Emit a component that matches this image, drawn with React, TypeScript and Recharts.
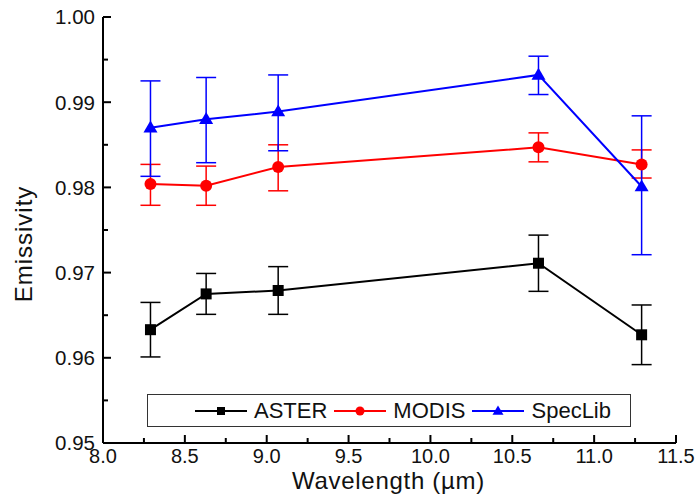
import React from 'react'
import {
  LineChart,
  Line,
  XAxis,
  YAxis,
  ErrorBar,
  Legend,
} from 'recharts'

// Wavelength positions (µm)
const wavelengths = [8.29, 8.63, 9.07, 10.66, 11.29]

// ASTER
const asterValues = [0.9633, 0.9675, 0.9679, 0.9711, 0.9627]
const asterUpper = [0.9665, 0.9699, 0.9707, 0.9744, 0.9662]
const asterLower = [0.9601, 0.9651, 0.9651, 0.9678, 0.9592]

// MODIS
const modisValues = [0.9804, 0.9802, 0.9824, 0.9847, 0.9827]
const modisUpper = [0.9827, 0.9825, 0.985, 0.9864, 0.9844]
const modisLower = [0.9779, 0.9779, 0.9796, 0.983, 0.9811]

// SpecLib
const specLibValues = [0.987, 0.988, 0.9889, 0.9932, 0.9801]
const specLibUpper = [0.9925, 0.9929, 0.9932, 0.9954, 0.9884]
const specLibLower = [0.9813, 0.9829, 0.9843, 0.9909, 0.9721]

// tick labels
const xMajorTicks = [8.0, 8.5, 9.0, 9.5, 10.0, 10.5, 11.0, 11.5]
const xMinorTicks = [8.25, 8.75, 9.25, 9.75, 10.25, 10.75, 11.25]
const yMajorTicks = [0.95, 0.96, 0.97, 0.98, 0.99, 1.0]
const yMinorTicks = [0.955, 0.965, 0.975, 0.985, 0.995]

const FONT = '"Liberation Sans", Arial, Helvetica, sans-serif'
const X_MARGIN = 5
const Y_MARGIN = 8
const MAJOR_LEN = 8
const MINOR_LEN = 5

const chartData = wavelengths.map((x, i) => ({
  x,
  aster: asterValues[i],
  asterErr: [asterValues[i] - asterLower[i], asterUpper[i] - asterValues[i]],
  modis: modisValues[i],
  modisErr: [modisValues[i] - modisLower[i], modisUpper[i] - modisValues[i]],
  specLib: specLibValues[i],
  specLibErr: [specLibValues[i] - specLibLower[i], specLibUpper[i] - specLibValues[i]],
}))

const xTicks = [...xMajorTicks, ...xMinorTicks].sort((a, b) => a - b)
const yTicks = [...yMajorTicks, ...yMinorTicks].sort((a, b) => a - b)

const isMajor = (v: number, list: number[]) => list.some((m) => Math.abs(m - v) < 1e-9)

// ---- marker shapes ----
const Square = ({ cx, cy, size, color }: any) => (
  <rect x={cx - size / 2} y={cy - size / 2} width={size} height={size} fill={color} />
)
const Circle = ({ cx, cy, size, color }: any) => <circle cx={cx} cy={cy} r={size / 2} fill={color} />
const Triangle = ({ cx, cy, size, color }: any) => {
  const h = size * 0.85
  return (
    <polygon
      points={`${cx},${cy - h * 0.6} ${cx - size / 2},${cy + h * 0.4} ${cx + size / 2},${cy + h * 0.4}`}
      fill={color}
    />
  )
}

const series = [
  { key: 'aster', name: 'ASTER', color: '#000000', Marker: Square, size: 11, legendSize: 8 },
  { key: 'modis', name: 'MODIS', color: '#ff0000', Marker: Circle, size: 12, legendSize: 9 },
  { key: 'specLib', name: 'SpecLib', color: '#0000ff', Marker: Triangle, size: 14, legendSize: 11 },
]

// ---- ticks (inward, with minor ticks) ----
const BottomTick = (props: any) => {
  const { x, y, payload } = props
  const v = payload.value
  const major = isMajor(v, xMajorTicks)
  const axisY = y - X_MARGIN
  return (
    <g>
      <line x1={x} x2={x} y1={axisY} y2={axisY - (major ? MAJOR_LEN : MINOR_LEN)} stroke="#000" strokeWidth={2} />
      {major && (
        <text x={x} y={axisY + X_MARGIN} dy="0.74em" textAnchor="middle" fontFamily={FONT} fontSize={20} fill="#111">
          {v.toFixed(1)}
        </text>
      )}
    </g>
  )
}

const TopTick = (props: any) => {
  const { x, y, payload } = props
  const major = isMajor(payload.value, xMajorTicks)
  return <line x1={x} x2={x} y1={y} y2={y + (major ? MAJOR_LEN : MINOR_LEN)} stroke="#000" strokeWidth={2} />
}

const LeftTick = (props: any) => {
  const { x, y, payload } = props
  const v = payload.value
  const major = isMajor(v, yMajorTicks)
  const axisX = x + Y_MARGIN
  return (
    <g>
      <line x1={axisX} x2={axisX + (major ? MAJOR_LEN : MINOR_LEN)} y1={y} y2={y} stroke="#000" strokeWidth={2} />
      {major && (
        <text x={axisX - Y_MARGIN} y={y} dy="0.36em" textAnchor="end" fontFamily={FONT} fontSize={20.5} fill="#111">
          {v.toFixed(2)}
        </text>
      )}
    </g>
  )
}

const RightTick = (props: any) => {
  const { x, y, payload } = props
  const major = isMajor(payload.value, yMajorTicks)
  return <line x1={x} x2={x - (major ? MAJOR_LEN : MINOR_LEN)} y1={y} y2={y} stroke="#000" strokeWidth={2} />
}

const LegendBox = () => (
  <div
    style={{
      display: 'flex',
      alignItems: 'center',
      height: '100%',
      boxSizing: 'border-box',
      border: '1.5px solid #333',
      paddingLeft: 47,
      fontFamily: FONT,
      fontSize: 22,
      color: '#111',
      background: '#fff',
    }}
  >
    {series.map((s) => (
      <div key={s.key} style={{ display: 'flex', alignItems: 'center', marginRight: 7 }}>
        <svg width={52} height={20}>
          <line x1={0} x2={52} y1={10} y2={10} stroke={s.color} strokeWidth={2} />
          <s.Marker cx={26} cy={10} size={s.legendSize} color={s.color} />
        </svg>
        <span style={{ marginLeft: 7, lineHeight: '22px' }}>{s.name}</span>
      </div>
    ))}
  </div>
)

export default function App() {
  return (
    <div style={{ width: 700, height: 504, background: '#fff' }}>
      <style>{'body{margin:0}'}</style>
      <LineChart width={700} height={504} data={chartData} margin={{ top: 17, right: 24, bottom: 0, left: 0 }}>
        <XAxis
          dataKey="x"
          type="number"
          domain={[8, 11.5]}
          ticks={xTicks}
          interval={0}
          allowDataOverflow
          height={61}
          tickSize={0}
          tickMargin={X_MARGIN}
          tickLine={false}
          tick={BottomTick}
          axisLine={{ stroke: '#000', strokeWidth: 2 }}
          label={(p: any) => {
            const vb = p.viewBox
            return (
              <text x={vb.x + vb.width / 2 - 1} y={vb.y + 46} textAnchor="middle" fontFamily={FONT} fontSize={24} fill="#111" letterSpacing={0.7}>
                Wavelength (µm)
              </text>
            )
          }}
        />
        <XAxis
          xAxisId="top"
          orientation="top"
          dataKey="x"
          type="number"
          domain={[8, 11.5]}
          ticks={xTicks}
          interval={0}
          allowDataOverflow
          height={0}
          tickSize={0}
          tickMargin={0}
          tickLine={false}
          tick={TopTick}
          axisLine={{ stroke: '#000', strokeWidth: 2 }}
        />
        <YAxis
          type="number"
          domain={[0.95, 1.0]}
          ticks={yTicks}
          interval={0}
          allowDataOverflow
          width={103}
          tickSize={0}
          tickMargin={Y_MARGIN}
          tickLine={false}
          tick={LeftTick}
          axisLine={{ stroke: '#000', strokeWidth: 2 }}
          label={(p: any) => {
            const vb = p.viewBox
            const cx = vb.x + 32
            const cy = vb.y + vb.height / 2 + 14
            return (
              <text x={cx} y={cy} transform={`rotate(-90, ${cx}, ${cy})`} textAnchor="middle" fontFamily={FONT} fontSize={24} fill="#111" letterSpacing={1}>
                Emissivity
              </text>
            )
          }}
        />
        <YAxis
          yAxisId="right"
          orientation="right"
          type="number"
          domain={[0.95, 1.0]}
          ticks={yTicks}
          interval={0}
          allowDataOverflow
          width={0}
          tickSize={0}
          tickMargin={0}
          tickLine={false}
          tick={RightTick}
          axisLine={{ stroke: '#000', strokeWidth: 2 }}
        />

        {series.map((s) => (
          <Line
            key={s.key}
            dataKey={s.key}
            name={s.name}
            stroke={s.color}
            strokeWidth={2}
            isAnimationActive={false}
            dot={(p: any) => <s.Marker key={`${s.key}-${p.index}`} cx={p.cx} cy={p.cy} size={s.size} color={s.color} />}
            activeDot={false}
          >
            <ErrorBar dataKey={`${s.key}Err`} direction="y" width={10} stroke={s.color} strokeWidth={1.5} isAnimationActive={false} />
          </Line>
        ))}

        <Legend
          layout="horizontal"
          verticalAlign="middle"
          align="center"
          content={<LegendBox />}
          wrapperStyle={{ position: 'absolute', left: 147, top: 394, width: 484, height: 33 }}
        />
      </LineChart>
    </div>
  )
}
